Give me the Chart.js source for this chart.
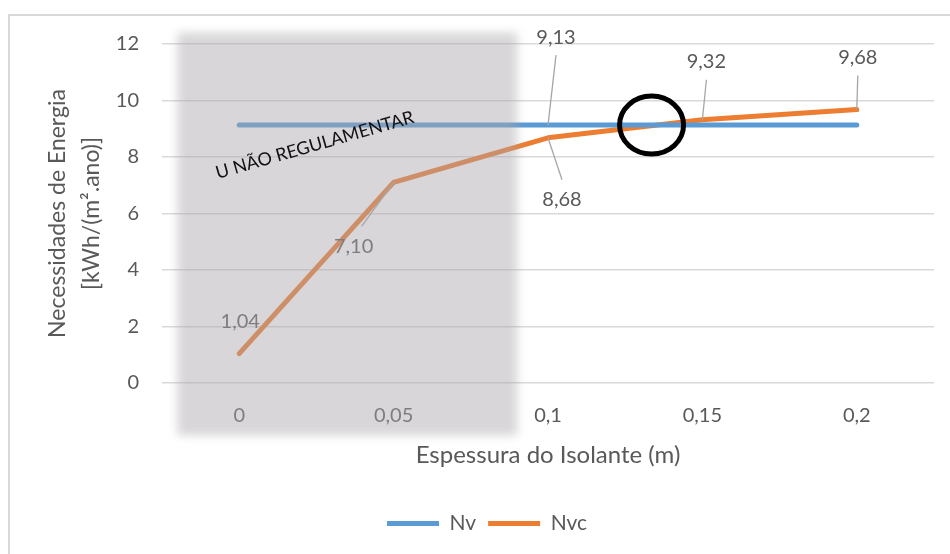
<!DOCTYPE html>
<html>
<head>
<meta charset="utf-8">
<script src="https://cdn.jsdelivr.net/npm/chart.js@4.4.1/dist/chart.umd.min.js"></script>
<style>
  html, body { margin: 0; padding: 0; background: #fff; overflow: hidden; }
  #wrap { width: 950px; height: 554px; position: relative; }
</style>
</head>
<body>
<div id="wrap"><canvas id="grafico" width="950" height="554"></canvas></div>
<script>
// espessura do isolante (m)
const espessuras = ['0', '0,05', '0,1', '0,15', '0,2'];
// necessidades de energia [kWh/(m².ano)]
const nv = [9.13, 9.13, 9.13, 9.13, 9.13];
const nvc = [1.04, 7.10, 8.68, 9.32, 9.68];
const yTicks = [0, 2, 4, 6, 8, 10, 12];

// rótulos: índice -> [dx, dy, linha de chamada]
const rotulosNv = { 2: [8, -88, true] };
const rotulosNvc = { 0: [1, -32, false], 1: [-40, 64, true], 2: [14, 62, true], 3: [4, -58, true], 4: [1, -52, true] };

// zona cinzenta (unidades dos eixos)
const zona = { xMin: -0.4, xMax: 1.8, yMin: -1.85, yMax: 12.4 };
const textoZona = { x: 0.49, y: 8.42, texto: 'U NÃO REGULAMENTAR' };

const COR_TEXTO = '#595959';
Chart.defaults.font.family = 'Lato';
Chart.defaults.color = COR_TEXTO;

const fmt = v => v.toFixed(2).replace('.', ',');

const moldura = {
    id: 'moldura',
    beforeDraw(chart) {
        const ctx = chart.ctx;
        ctx.save();
        ctx.fillStyle = '#fff';
        ctx.fillRect(0, 0, chart.width, chart.height);
        ctx.strokeStyle = '#d9d9d9';
        ctx.lineWidth = 2;
        ctx.strokeRect(9, 15, chart.width + 20, chart.height + 20);
        ctx.restore();
    }
};

const anotacoes = {
    id: 'anotacoes',
    afterDatasetsDraw(chart) {
        const ctx = chart.ctx;
        const xs = chart.scales.x, ys = chart.scales.y;

        // valores e linhas de chamada
        ctx.save();
        ctx.font = '20px Lato';
        ctx.textAlign = 'center';
        ctx.textBaseline = 'middle';
        [[0, rotulosNv], [1, rotulosNvc]].forEach(([ds, rot]) => {
            const meta = chart.getDatasetMeta(ds);
            const dados = chart.data.datasets[ds].data;
            Object.keys(rot).forEach(k => {
                const p = meta.data[k];
                const [dx, dy, chamada] = rot[k];
                const lx = p.x + dx, ly = p.y + dy;
                if (chamada) {
                    ctx.strokeStyle = '#a6a6a6';
                    ctx.lineWidth = 1.3;
                    ctx.beginPath();
                    ctx.moveTo(lx + (dx < -20 ? 8 : 0), ly + (dy < 0 ? 18 : -20));
                    ctx.lineTo(p.x, p.y);
                    ctx.stroke();
                }
                ctx.fillStyle = COR_TEXTO;
                ctx.fillText(fmt(dados[k]), lx, ly);
            });
        });
        ctx.restore();

        // zona de U não regulamentar
        const x0 = xs.getPixelForValue(zona.xMin), x1 = xs.getPixelForValue(zona.xMax);
        const y0 = ys.getPixelForValue(zona.yMax), y1 = ys.getPixelForValue(zona.yMin);
        ctx.save();
        ctx.filter = 'blur(5px)';
        ctx.fillStyle = 'rgba(170,166,170,0.46)';
        ctx.fillRect(x0, y0, x1 - x0, y1 - y0);
        ctx.restore();

        ctx.save();
        ctx.translate(xs.getPixelForValue(textoZona.x), ys.getPixelForValue(textoZona.y));
        ctx.rotate(-16 * Math.PI / 180);
        ctx.font = '18px Lato';
        ctx.fillStyle = '#111';
        ctx.textAlign = 'center';
        ctx.textBaseline = 'middle';
        ctx.fillText(textoZona.texto, 0, 0);
        ctx.restore();

        // círculo no cruzamento Nvc / Nv
        for (let i = 0; i < nvc.length - 1; i++) {
            const a = nvc[i] - nv[i], b = nvc[i + 1] - nv[i + 1];
            if (a < 0 && b >= 0) {
                const t = a / (a - b);
                const cx = xs.getPixelForValue(i + t) - 5;
                const cy = ys.getPixelForValue(nv[i] + t * (nv[i + 1] - nv[i]));
                ctx.save();
                ctx.strokeStyle = '#000';
                ctx.lineWidth = 5;
                ctx.beginPath();
                ctx.ellipse(cx, cy, 32, 29, 0, 0, Math.PI * 2);
                ctx.stroke();
                ctx.restore();
            }
        }
    }
};

new Chart(document.getElementById('grafico'), {
    type: 'line',
    data: {
        labels: espessuras,
        datasets: [{
            label: 'Nv',
            data: nv,
            borderColor: '#5b9bd5',
            backgroundColor: '#5b9bd5',
            borderWidth: 5,
            borderCapStyle: 'round',
            borderJoinStyle: 'round',
            pointRadius: 0,
            tension: 0
        }, {
            label: 'Nvc',
            data: nvc,
            borderColor: '#ed7d31',
            backgroundColor: '#ed7d31',
            borderWidth: 5,
            borderCapStyle: 'round',
            borderJoinStyle: 'round',
            pointRadius: 0,
            tension: 0
        }]
    },
    options: {
        responsive: false,
        animation: false,
        events: [],
        layout: { padding: { top: 44, right: 16, bottom: 10, left: 40 } },
        plugins: {
            legend: {
                position: 'bottom',
                labels: {
                    usePointStyle: true,
                    pointStyle: 'line',
                    pointStyleWidth: 52,
                    padding: 12,
                    color: COR_TEXTO,
                    font: { size: 21 }
                }
            },
            tooltip: { enabled: false }
        },
        scales: {
            x: {
                offset: true,
                grid: { display: false },
                border: { display: false },
                ticks: { padding: 13, color: COR_TEXTO, font: { size: 20 } },
                title: {
                    display: true,
                    text: 'Espessura do Isolante (m)',
                    color: COR_TEXTO,
                    font: { size: 24 },
                    padding: { top: 0, bottom: 31 }
                },
                afterFit(s) { s.height = 118; }
            },
            y: {
                min: yTicks[0],
                max: yTicks[yTicks.length - 1],
                grid: { color: '#d9d9d9', lineWidth: 1.5, drawTicks: false },
                border: { display: false },
                ticks: { stepSize: yTicks[1] - yTicks[0], padding: 23, color: COR_TEXTO, font: { size: 20 } },
                title: {
                    display: true,
                    text: ['Necessidades de Energia', '[kWh/(m².ano)]'],
                    color: COR_TEXTO,
                    font: { size: 23, lineHeight: 1.48 },
                    padding: { top: 1, bottom: 0 }
                },
                afterFit(s) { s.width = 122; }
            }
        }
    },
    plugins: [moldura, anotacoes]
});
</script>
</body>
</html>
